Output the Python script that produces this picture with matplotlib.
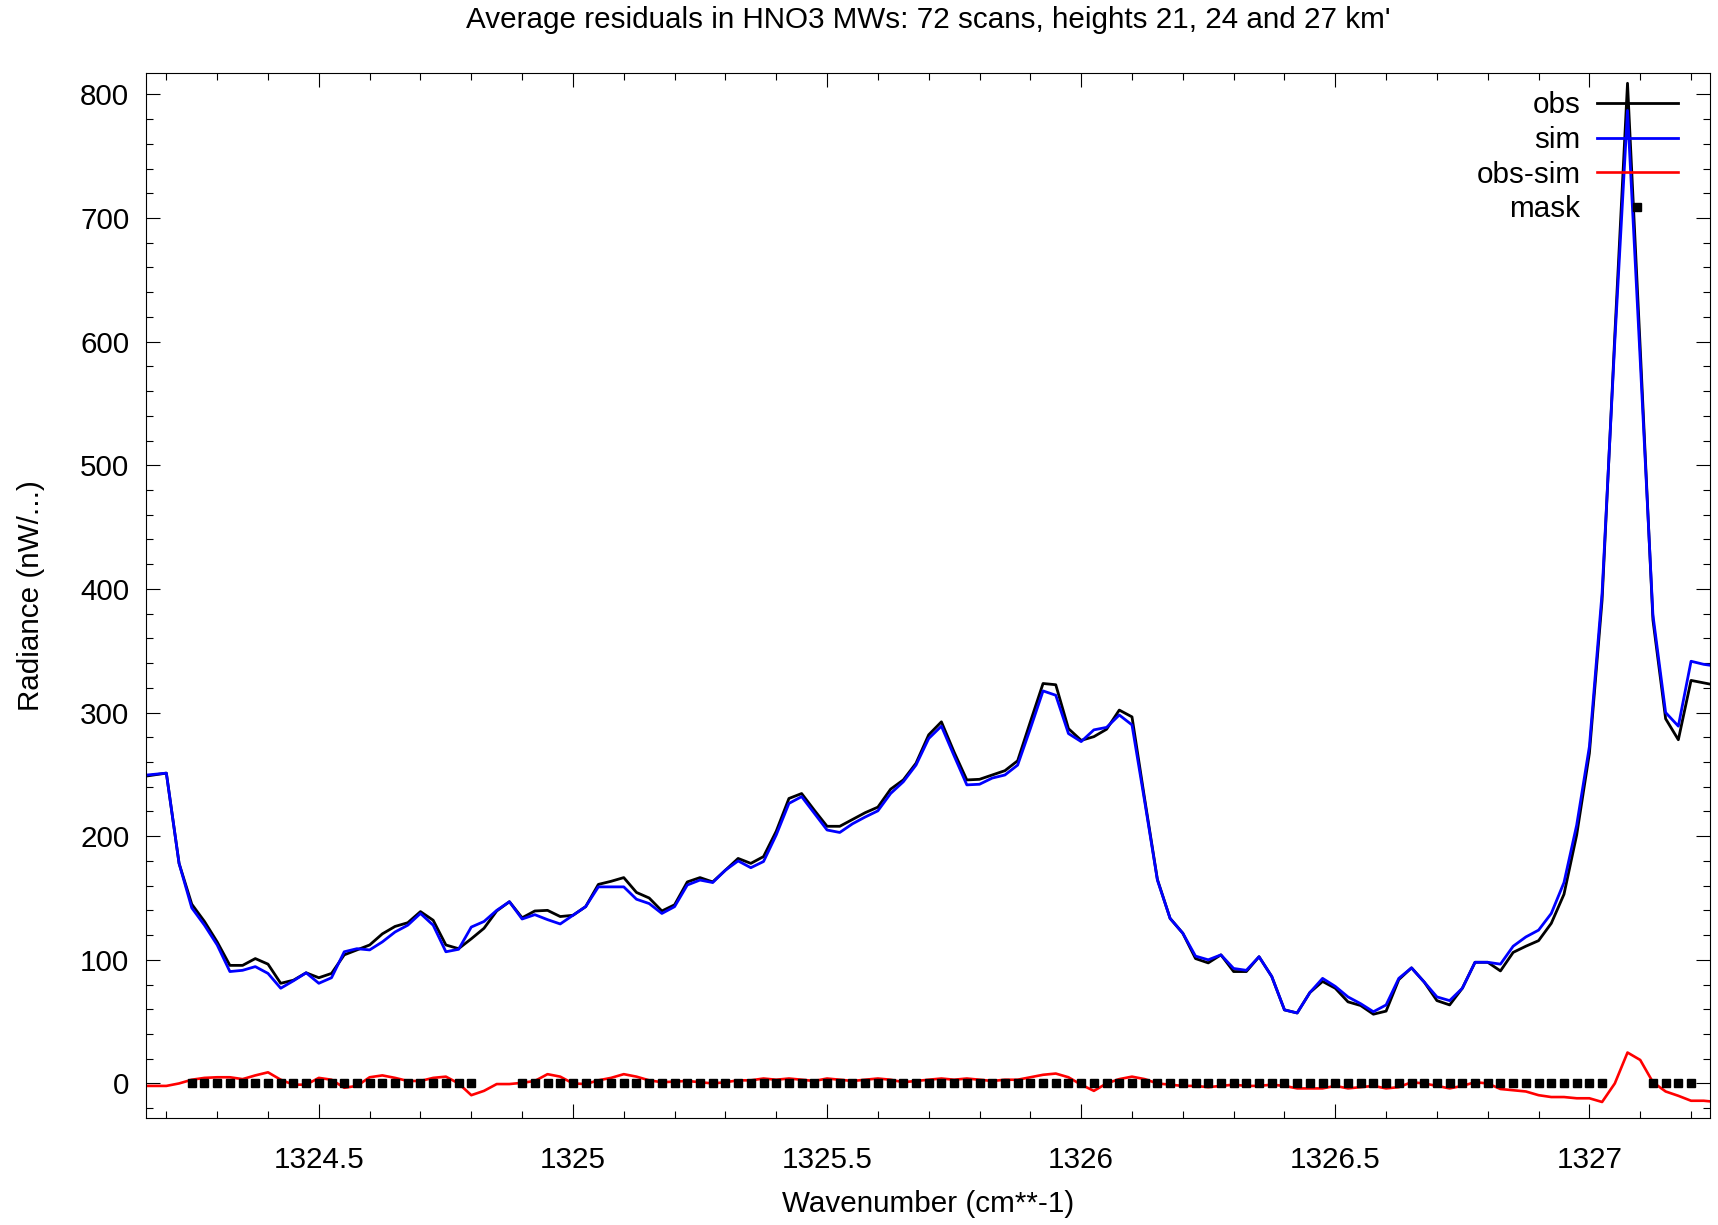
import matplotlib.pyplot as plt
import numpy as np
from matplotlib.ticker import MultipleLocator, FuncFormatter

# spectral grid (cm-1), 0.025 spacing
wn_start = 1324.15
wn_step = 0.025

# average observed radiance
obs = [248, 249.5, 251, 178, 145, 131, 114.5, 95.5, 95.5, 101,
       96.5, 81, 83.5, 89.5, 85.5, 89, 104, 108, 112, 121,
       127, 130, 139, 132, 112, 109, 117, 125.5, 139.5, 147,
       134, 139.5, 140, 135, 136, 143, 161, 163.5, 166.5, 154.5,
       150, 139.5, 144.5, 163, 166.5, 163, 172.5, 182, 178, 183.5,
       204, 230.5, 234.5, 221, 208, 208, 213.5, 219, 223.5, 238,
       245.5, 259, 282, 292.5, 268, 245.5, 246, 249.5, 253, 261,
       292.5, 323.5, 322.5, 287, 277.5, 280.5, 286.5, 302, 296.5, 230,
       165, 133.5, 121.5, 101, 97.5, 104, 90.5, 90.5, 102.5, 86.5,
       59.5, 57, 73.5, 82.5, 77, 66, 63, 56, 58.5, 84,
       93.5, 82, 67, 63.5, 77, 98, 98, 91, 106, 111,
       115.5, 129.5, 153, 201, 267, 391, 605, 809, 595, 375,
       295, 278, 326, 324, 322]

# simulated radiance
sim = [249, 250, 251, 178, 142, 128, 112, 90.5, 91.5, 94.5,
       89, 77, 83, 89.5, 81, 85.5, 106.5, 109, 108, 114.5,
       122.5, 128, 137.5, 128, 106.5, 108.5, 126.5, 131, 140, 147,
       133, 136.5, 132.5, 129, 136, 143, 159, 159, 159, 149,
       145.5, 137.5, 143, 160.5, 164.5, 162.5, 172.5, 180, 174.5, 179.5,
       201, 226.5, 232, 218.5, 205, 203, 210, 215.5, 220.5, 234.5,
       244, 257.5, 279, 289, 265, 241.5, 242, 247, 249.5, 257.5,
       287, 317.5, 314, 283, 276.5, 286, 288, 298, 290, 228,
       164.5, 133.5, 121.5, 103, 100, 104, 93, 91.5, 102.5, 86.5,
       59.5, 57, 73.5, 85, 78.5, 70, 64.5, 58, 63.5, 85,
       93.5, 82, 70, 67, 77, 98, 98, 96.5, 111, 118.5,
       124, 137.5, 162.5, 209, 272.5, 397, 600, 787, 585, 379,
       300, 289, 341.5, 339, 337.5]

# obs - sim residual
resid = [-2, -2, -2, 0, 3, 4.5, 5, 5, 3.5, 6.5,
         9, 3, -1, -1, 4.5, 3, -3.5, -2, 5, 6.5,
         4.5, 2, 2, 4.5, 5.5, 0, -9.5, -6, -0.5, -0.5,
         0.5, 2, 7.5, 5.5, 0, -0.5, 2.5, 4.5, 7.5, 5.5,
         2.5, 1, 1.5, 2, 1, 0, 1, 2.5, 2.5, 4,
         3, 4, 3, 2, 4, 3, 2, 3, 4, 3,
         1, 2, 3, 4, 3, 4, 3, 2, 3, 3,
         5, 7, 8, 5, -1, -6, 0, 3.5, 5.5, 3.5,
         0, -1, -2, -2, -3, -2, -1, -2, -2, -1,
         -2, -4, -4, -4, -2, -4, -3, -2, -4, -3,
         1, 0, -2, -4, -2, 1, 0, -4.5, -5.5, -6.5,
         -9.5, -11, -11, -12, -12, -15, 0, 25, 19, 1,
         -6.5, -10, -14, -14, -15]

# wavenumber ranges where the mask is set
mask_ranges = [(1324.25, 1324.80), (1324.90, 1327.025), (1327.125, 1327.20)]

title = "Average residuals in HNO3 MWs: 72 scans, heights 21, 24 and 27 km'"

wn = np.round(wn_start + wn_step * np.arange(len(obs)), 4)
mask = np.zeros(len(wn), dtype=bool)
for a, b in mask_ranges:
    mask |= (wn >= a - 1e-6) & (wn <= b + 1e-6)

plt.rcParams['font.family'] = ['Liberation Sans', 'DejaVu Sans']
fs = 21.3

fig = plt.figure(figsize=(17.18, 12.25), dpi=100)
ax = fig.add_axes([0.0850, 0.0873, 0.9104, 0.8533])

ax.plot(wn, obs, color='black', lw=2.0, label='obs')
ax.plot(wn, sim, color='#0000ff', lw=2.0, label='sim')
ax.plot(wn, resid, color='#ff0000', lw=1.9, label='obs-sim')
ax.plot(wn[mask], np.zeros(mask.sum()), 's', color='black', ms=5.3,
        linestyle='none', label='mask')

ax.set_xlim(1324.16, 1327.2375)
ax.set_ylim(-28, 817.5)

ax.xaxis.set_major_locator(MultipleLocator(0.5))
ax.xaxis.set_minor_locator(MultipleLocator(0.1))
ax.xaxis.set_major_formatter(FuncFormatter(lambda v, p: f"{v:g}"))
ax.yaxis.set_major_locator(MultipleLocator(100))
ax.yaxis.set_minor_locator(MultipleLocator(20))

ax.tick_params(which='both', direction='in', top=True, right=True, width=0.8,
               labelsize=fs)
ax.tick_params(which='major', length=10)
ax.tick_params(which='minor', length=5)
ax.tick_params(axis='x', pad=20)
ax.tick_params(axis='y', pad=12)
for s in ax.spines.values():
    s.set_linewidth(0.8)

ax.set_xlabel('Wavenumber (cm**-1)', fontsize=fs)
ax.set_ylabel('Radiance (nW/...)', fontsize=fs)
ax.xaxis.set_label_coords(0.5, -0.0825)
ax.xaxis.label.set_va('center')
ax.yaxis.set_label_coords(-0.0735, 0.5)
ax.yaxis.label.set_va('center')

fig.text(0.5402, 0.9837, title, fontsize=fs, ha='center', va='center')

ax.legend(loc='upper right', bbox_to_anchor=(0.9795, 0.9825), frameon=False,
          markerfirst=False, handlelength=2.75, handletextpad=0.55,
          labelspacing=0.23, borderpad=0, borderaxespad=0, fontsize=fs,
          numpoints=1)

fig.savefig('out.png', dpi=100)
